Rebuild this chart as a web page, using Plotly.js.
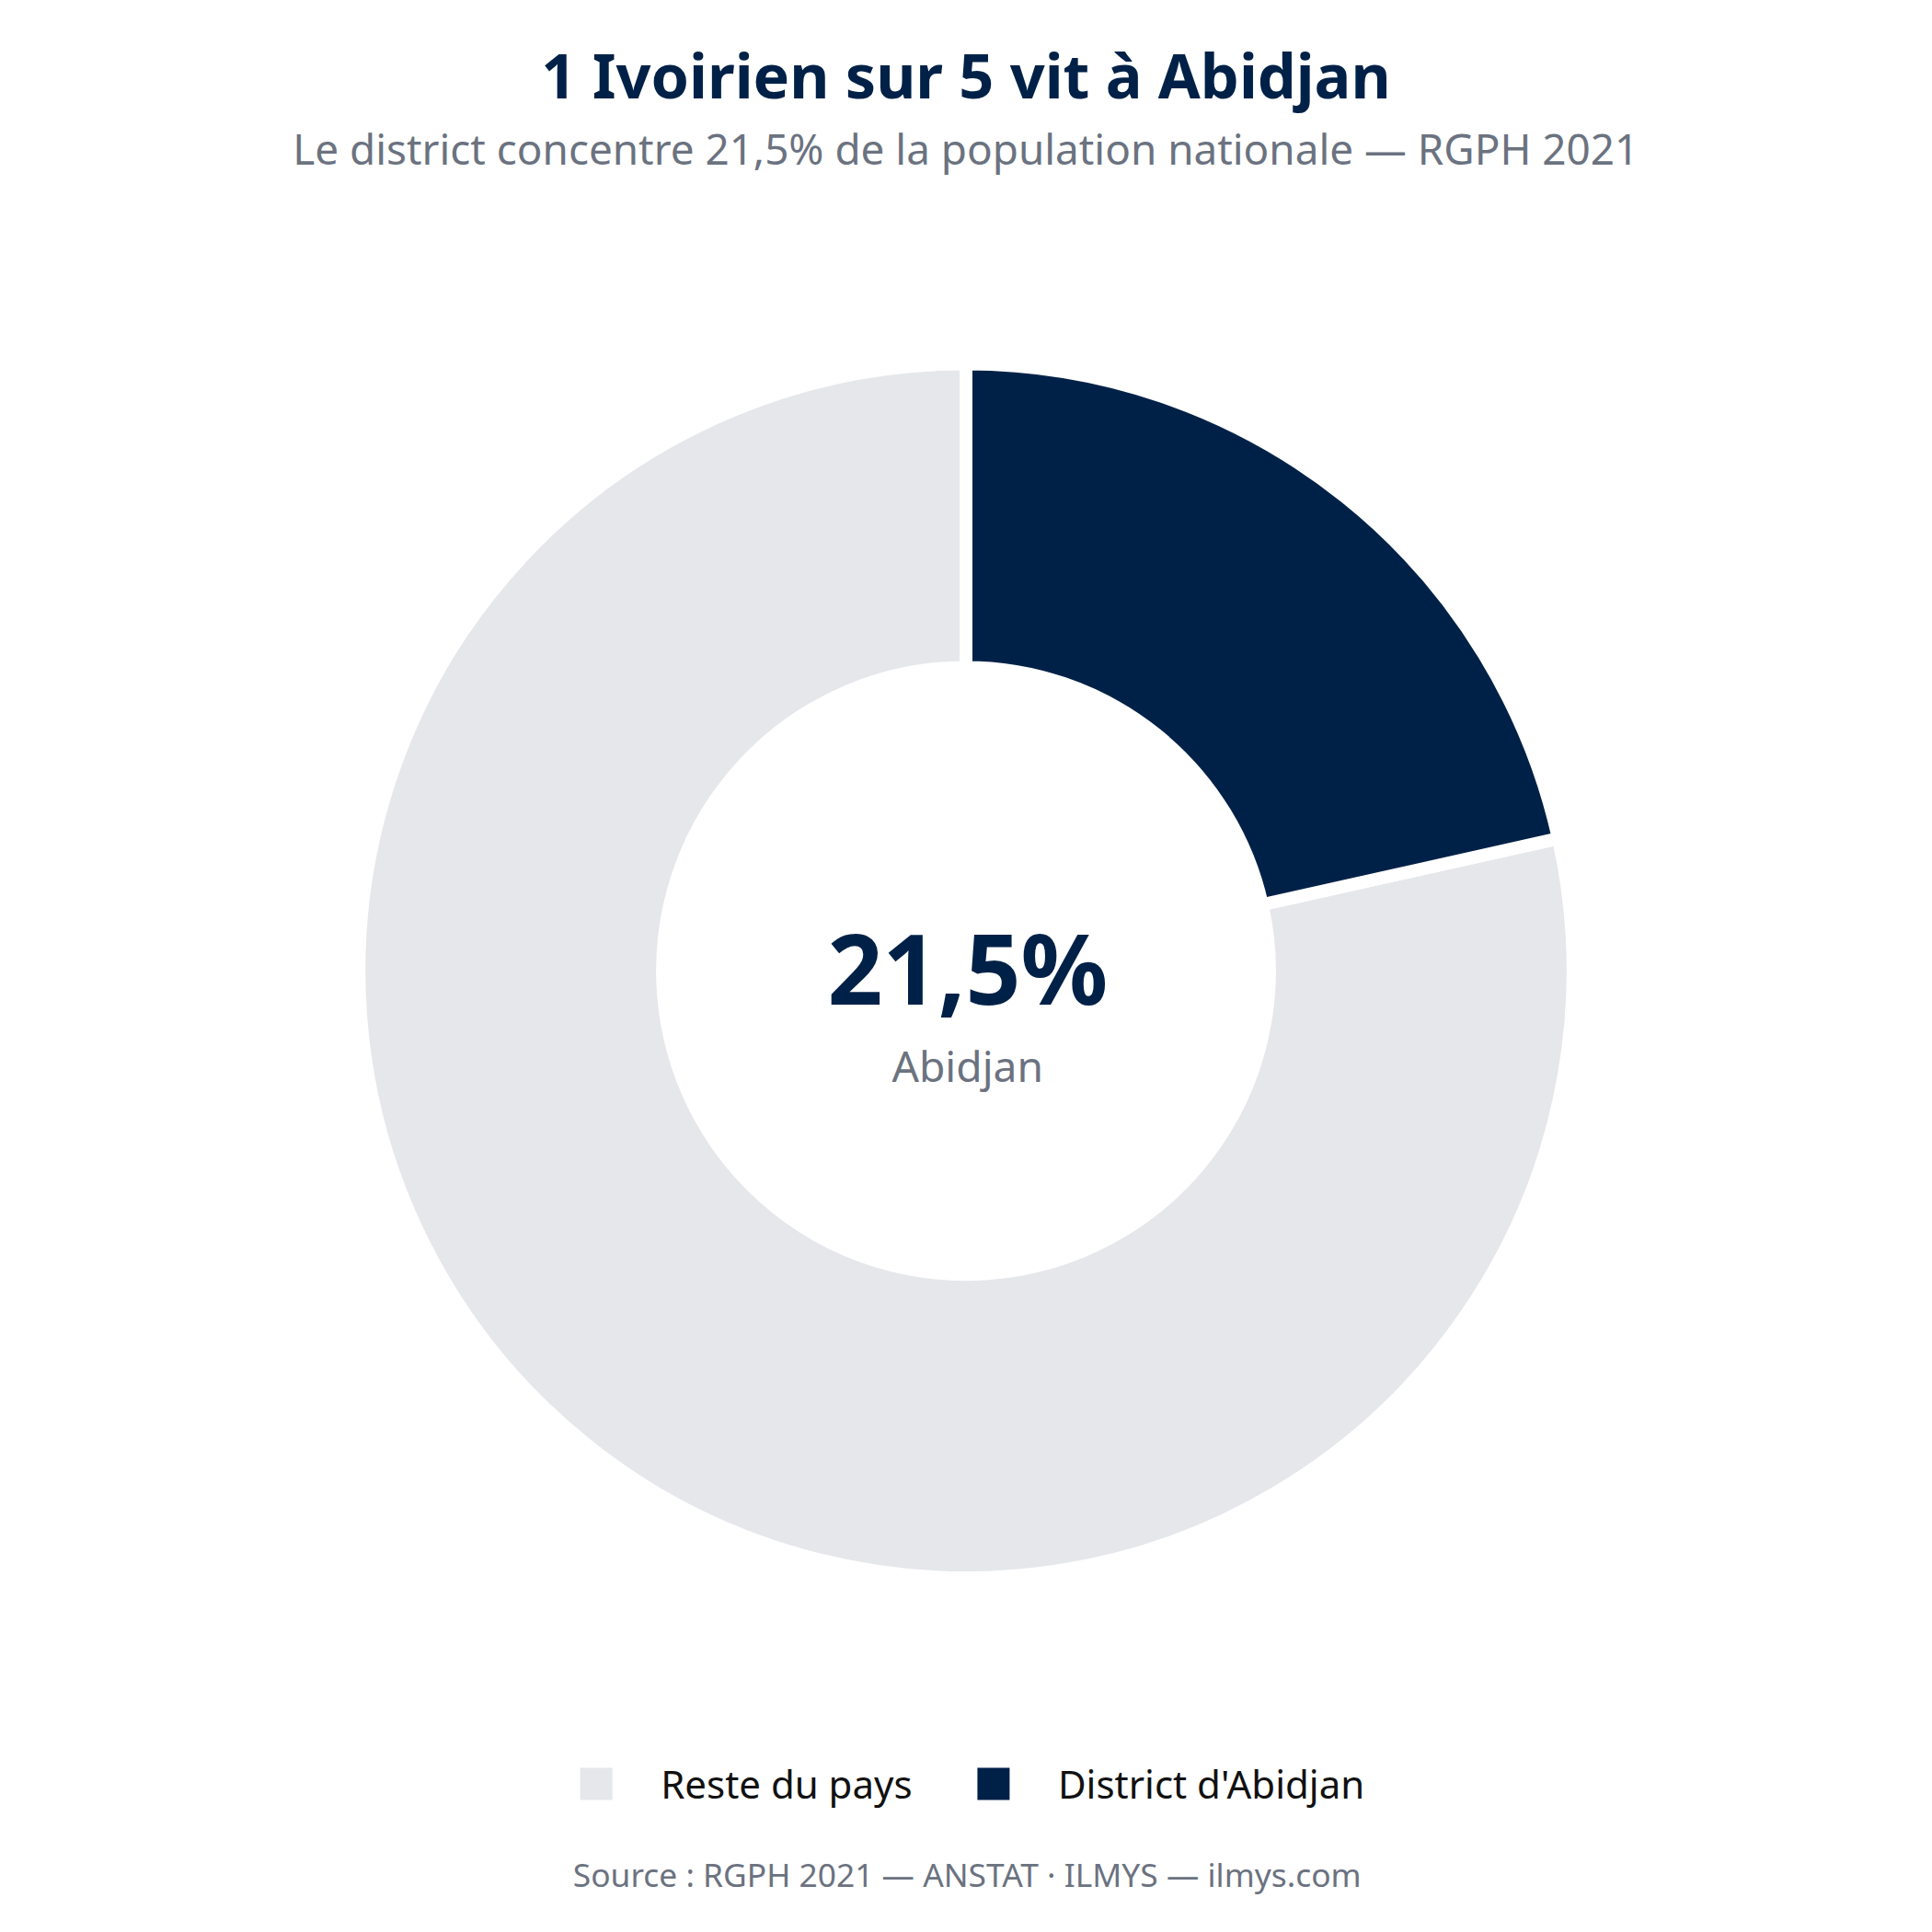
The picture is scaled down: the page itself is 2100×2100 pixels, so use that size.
<!DOCTYPE html>
<html>
<head>
<meta charset="utf-8">
<script src="https://cdn.plot.ly/plotly-3.0.1.min.js"></script>
<style>
  html, body { margin: 0; padding: 0; background: #fff; width: 2100px; height: 2100px; overflow: hidden; }
  #chart { width: 600px; height: 600px; zoom: 3.5; }
</style>
</head>
<body>
<div id="chart"></div>
<script>
var labels = ['Reste du pays', "District d'Abidjan"]
var values = [78.5, 21.5]
var colors = ['#e5e7eb', '#002147']

var centerValue = '21,5%'
var centerLabel = 'Abidjan'

var navy = '#002147', grey = '#6b7280'

// Abidjan slice should start at 12 o'clock and run clockwise
var total = values[0] + values[1]
var startAngle = 360 * values[1] / total

var trace = {
    type: 'pie',
    labels: labels,
    values: values,
    hole: 0.5,
    sort: false,
    direction: 'clockwise',
    rotation: startAngle,
    marker: { colors: colors, line: { color: '#ffffff', width: 4 } },
    textinfo: 'none',
    hoverinfo: 'label+percent',
    showlegend: true
}

var layout = {
    width: 600,
    height: 600,
    paper_bgcolor: '#ffffff',
    plot_bgcolor: '#ffffff',
    font: { family: 'Noto Sans, sans-serif', color: '#111111' },
    margin: { l: 20, r: 20, t: 113, b: 110 },
    title: {
        text: '<b>1 Ivoirien sur 5 vit à Abidjan</b>',
        font: { size: 19, color: navy },
        x: 0.5, xanchor: 'center',
        yref: 'container', y: 0.96, yanchor: 'middle'
    },
    legend: {
        orientation: 'h',
        x: 0.495, xanchor: 'center',
        yref: 'container', y: 0.0767, yanchor: 'middle',
        itemsizing: 'constant',
        font: { size: 12, color: '#111111' }
    },
    annotations: [
        { text: 'Le district concentre 21,5% de la population nationale — RGPH 2021',
          xref: 'paper', yref: 'paper', x: 0.5, y: 1.177, xanchor: 'center', yanchor: 'middle',
          showarrow: false, font: { size: 13.1, color: grey } },
        { text: '<b>' + centerValue + '</b>',
          xref: 'paper', yref: 'paper', x: 0.5, y: 0.502, xanchor: 'center', yanchor: 'middle',
          showarrow: false, font: { size: 30, color: navy } },
        { text: centerLabel,
          xref: 'paper', yref: 'paper', x: 0.5, y: 0.423, xanchor: 'center', yanchor: 'middle',
          showarrow: false, font: { size: 13.2, color: grey } },
        { text: 'Source : RGPH 2021 — ANSTAT · ILMYS — ilmys.com',
          xref: 'paper', yref: 'paper', x: 0.5, y: -0.2435, xanchor: 'center', yanchor: 'middle',
          showarrow: false, font: { size: 10.1, color: grey } }
    ]
}

Plotly.newPlot('chart', [trace], layout, { displayModeBar: false })
</script>
</body>
</html>
